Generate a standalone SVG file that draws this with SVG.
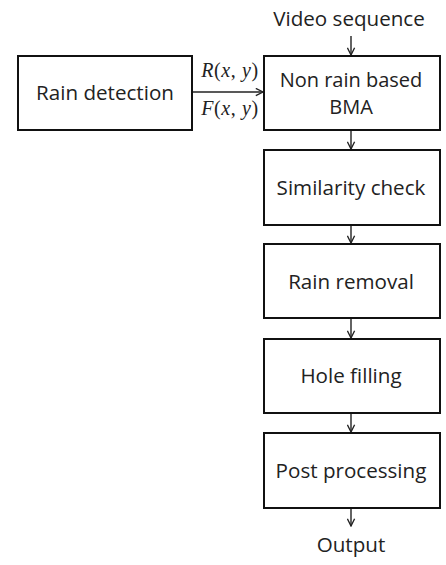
<svg xmlns="http://www.w3.org/2000/svg" width="446" height="565" viewBox="0 0 446 565">
<style>
.box{fill:#fff;stroke:#111;stroke-width:2}
.t{font-family:"Open Sans","Liberation Sans",sans-serif;font-size:20.6px;fill:#222;text-anchor:middle}
.m{font-family:"Liberation Serif","Times New Roman",serif;font-size:20px;fill:#222;text-anchor:middle;letter-spacing:0.6px}
.c{stroke:#222;stroke-width:1.4;fill:none}
</style>
<defs>
<marker id="a" viewBox="0 0 10 10" refX="9" refY="5" markerWidth="9" markerHeight="9" markerUnits="userSpaceOnUse" orient="auto">
<path d="M1,1 L9,5 L1,9" fill="none" stroke="#222" stroke-width="1.5"/>
</marker>
</defs>
<rect width="446" height="565" fill="#fff"/>
<g id="connectors">
<line class="c" x1="351" y1="36" x2="351" y2="55" marker-end="url(#a)"/>
<line class="c" x1="193" y1="92" x2="263" y2="92" marker-end="url(#a)"/>
<line class="c" x1="351" y1="130" x2="351" y2="149" marker-end="url(#a)"/>
<line class="c" x1="351" y1="225" x2="351" y2="243" marker-end="url(#a)"/>
<line class="c" x1="351" y1="318" x2="351" y2="338" marker-end="url(#a)"/>
<line class="c" x1="351" y1="413" x2="351" y2="432" marker-end="url(#a)"/>
<line class="c" x1="351" y1="508" x2="351" y2="526" marker-end="url(#a)"/>
<text class="m" x="230" y="77"><tspan font-style="italic">R</tspan>(<tspan font-style="italic">x</tspan>, <tspan font-style="italic">y</tspan>)</text>
<text class="m" x="230" y="115"><tspan font-style="italic">F</tspan>(<tspan font-style="italic">x</tspan>, <tspan font-style="italic">y</tspan>)</text>
</g>
<g id="input"><text class="t" x="349" y="26">Video sequence</text></g>
<g id="rain-detection"><rect class="box" x="18" y="56" width="174" height="74"/><text class="t" x="105" y="100">Rain detection</text></g>
<g id="bma"><rect class="box" x="264" y="56" width="176" height="74"/><text class="t" x="351" y="86.5" style="font-size:20px">Non rain based</text><text class="t" x="351" y="114" style="font-size:20px">BMA</text></g>
<g id="similarity"><rect class="box" x="264" y="150" width="176" height="75"/><text class="t" x="351" y="195">Similarity check</text></g>
<g id="rain-removal"><rect class="box" x="264" y="244" width="176" height="74"/><text class="t" x="351" y="289">Rain removal</text></g>
<g id="hole-filling"><rect class="box" x="264" y="339" width="176" height="74"/><text class="t" x="351" y="383">Hole filling</text></g>
<g id="post-processing"><rect class="box" x="264" y="433" width="176" height="75"/><text class="t" x="351" y="478">Post processing</text></g>
<g id="output"><text class="t" x="351" y="552">Output</text></g>
</svg>
